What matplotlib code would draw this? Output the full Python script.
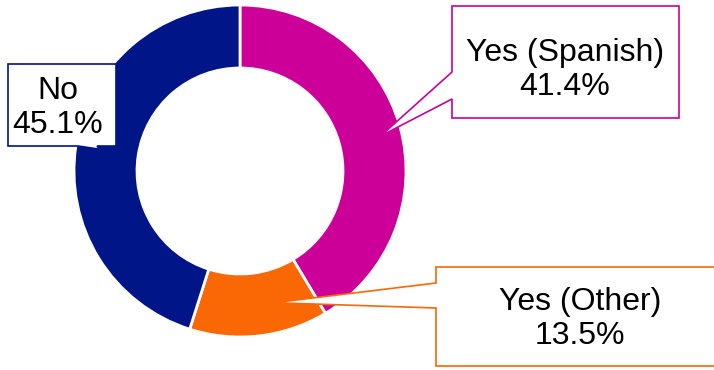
import numpy as np
import matplotlib
matplotlib.use("Agg")
import matplotlib.pyplot as plt
from matplotlib.patches import Polygon

# data
labels = ["Yes (Spanish)", "Yes (Other)", "No"]
shares = [41.4, 13.5, 45.1]
colors = ["#CC0099", "#FA6705", "#001588"]

plt.rcParams["font.family"] = ["Liberation Sans", "DejaVu Sans"]

W, H = 714, 370
fig = plt.figure(figsize=(W / 100, H / 100), dpi=100)
ax = fig.add_axes([0, 0, 1, 1])

cx, cy, R = 240, H - 171, 166
wedges, _ = ax.pie(shares, colors=colors, startangle=90, counterclock=False,
                   center=(cx, cy), radius=R,
                   wedgeprops=dict(width=63, edgecolor="white", linewidth=2))
ax.set_xlim(0, W)
ax.set_ylim(0, H)
ax.set_aspect("auto")
ax.axis("off")


def tip_of(w, frac, r):
    a = np.radians(w.theta2 - frac * (w.theta2 - w.theta1))
    return (cx + r * np.cos(a), cy + r * np.sin(a))


def px(p):
    return (p[0], H - p[1])


def callout(box, base, side, tip, color, text, tx, ty):
    x0, y0, x1, y1 = box
    if side == "left":
        pts = [px(p) for p in [(x0, y0), (x1, y0), (x1, y1), (x0, y1), (x0, base[1])]]
        pts += [tip, px((x0, base[0]))]
    else:  # pointer on the bottom edge
        pts = [px(p) for p in [(x0, y0), (x1, y0), (x1, y1), (base[1], y1)]]
        pts += [tip, px((base[0], y1)), px((x0, y1))]
    ax.add_patch(Polygon(pts, closed=True, facecolor="white", edgecolor=color,
                         linewidth=1.2, zorder=5, clip_on=False))
    ax.text(tx, H - ty, text, ha="center", va="center", fontsize=23,
            color="black", zorder=6, linespacing=1.2)


callout((452, 6, 679, 118), (72, 99), "left", tip_of(wedges[0], 0.51, 145),
        colors[0], f"{labels[0]}\n{shares[0]:.1f}%", 565, 70)
callout((436, 267, 716, 366), (283, 308), "left", tip_of(wedges[1], 0.34, 136),
        colors[1], f"{labels[1]}\n{shares[1]:.1f}%", 580, 319)
callout((8, 64, 116, 146), (78, 97), "bottom", tip_of(wedges[2], 0.5, 142),
        colors[2], f"{labels[2]}\n{shares[2]:.1f}%", 58, 108)

fig.savefig("out.png", dpi=100)
